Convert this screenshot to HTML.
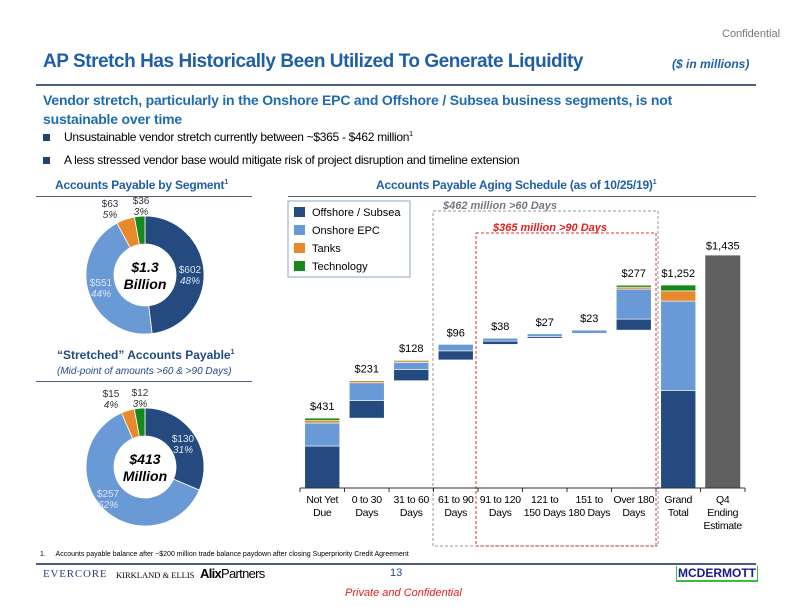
<!DOCTYPE html>
<html><head><meta charset="utf-8"><style>
body{margin:0;width:792px;height:612px;background:#fff;font-family:"Liberation Sans",sans-serif;position:relative;overflow:hidden}
.a{position:absolute;white-space:nowrap}
</style></head><body>
<div class="a" style="left:722px;top:28px;font-size:11px;color:#777">Confidential</div>
<div class="a" style="left:43px;top:51px;font-size:19px;font-weight:bold;color:#1f5fa6;letter-spacing:-0.45px">AP Stretch Has Historically Been Utilized To Generate Liquidity</div>
<div class="a" style="left:672px;top:57px;font-size:12px;font-weight:bold;font-style:italic;color:#1f5fa6">($ in millions)</div>
<div class="a" style="left:36px;top:84px;width:720px;height:2px;background:#4a5f7a"></div>
<div class="a" style="left:43px;top:91px;font-size:14px;font-weight:bold;color:#1f6bb0;line-height:19px;white-space:normal;width:680px;letter-spacing:-0.2px">Vendor stretch, particularly in the Onshore EPC and Offshore / Subsea business segments, is not sustainable over time</div>
<div class="a" style="left:43px;top:130px;font-size:12px;color:#000;letter-spacing:-0.3px"><span style="display:inline-block;width:7px;height:7px;background:#23436f;margin-right:14px"></span>Unsustainable vendor stretch currently between ~$365 - $462 million<sup style="font-size:7px">1</sup></div>
<div class="a" style="left:43px;top:153px;font-size:12px;color:#000;letter-spacing:-0.3px"><span style="display:inline-block;width:7px;height:7px;background:#23436f;margin-right:14px"></span>A less stressed vendor base would mitigate risk of project disruption and timeline extension</div>
<div class="a" style="left:55px;top:178px;font-size:12px;font-weight:bold;color:#1f5fa6;letter-spacing:-0.2px">Accounts Payable by Segment<sup style="font-size:7px">1</sup></div>
<div class="a" style="left:376px;top:178px;font-size:12px;font-weight:bold;color:#1f5fa6;letter-spacing:-0.2px">Accounts Payable Aging Schedule (as of 10/25/19)<sup style="font-size:7px">1</sup></div>
<div class="a" style="left:36px;top:196px;width:216px;height:1px;background:#4a5f7a"></div>
<div class="a" style="left:288px;top:196px;width:468px;height:1px;background:#4a5f7a"></div>
<div class="a" style="left:57px;top:348px;font-size:12px;font-weight:bold;color:#1f4a80">“Stretched” Accounts Payable<sup style="font-size:7px">1</sup></div>
<div class="a" style="left:57px;top:366px;font-size:10px;font-style:italic;color:#1f4a80">(Mid-point of amounts &gt;60 &amp; &gt;90 Days)</div>
<div class="a" style="left:36px;top:381px;width:216px;height:1px;background:#4a5f7a"></div>
<svg class="a" style="left:0;top:0" width="792" height="612" id="svg"></svg>
<div class="a" style="left:40px;top:551px;font-size:7px;color:#000">1.&nbsp;&nbsp;&nbsp;&nbsp;&nbsp;Accounts payable balance after ~$200 million trade balance paydown after closing Superpriority Credit Agreement</div>
<div class="a" style="left:36px;top:563px;width:720px;height:2px;background:#4a5f7a"></div>
<div class="a" style="left:43px;top:568px;font-size:11px;font-family:'Liberation Serif',serif;color:#2c3e7a;letter-spacing:0.8px">EVERCORE</div>
<div class="a" style="left:116px;top:570px;font-size:8.5px;font-family:'Liberation Serif',serif;color:#000">KIRKLAND &amp; ELLIS</div>
<div class="a" style="left:200px;top:566px;font-size:13px;color:#000;letter-spacing:-0.7px"><b>Alix</b>Partners</div>
<div class="a" style="left:390px;top:567px;font-size:11px;color:#1f4a80">13</div>
<div class="a" style="left:676px;top:566px;font-size:12px;font-weight:bold;color:#1a1a8a;border-bottom:2px solid #3cba3c;border-left:1px solid #3cba3c;border-right:1px solid #3cba3c;padding:0 1px">MCDERMOTT</div>
<div class="a" style="left:345px;top:587px;font-size:11px;font-style:italic;color:#e02020">Private and Confidential</div>
<script>
const cats=["Not Yet|Due","0 to 30|Days","31 to 60|Days","61 to 90|Days","91 to 120|Days","121 to|150 Days","151 to|180 Days","Over 180|Days","Grand|Total","Q4|Ending|Estimate"];
const offshore=[259,108,68,56,20,10,3,68,602];
const onshore=[142,110,45,40,18,17,20,185,551];
const tanks=[15,13,10,0,0,0,0,12,63];
const tech=[15,0,5,0,0,0,0,12,36];
const totalLabels=["$431","$231","$128","$96","$38","$27","$23","$277","$1,252","$1,435"];
const q4Value=1435;
const seg1=[602,551,63,36],seg1Lab=[["$602","48%"],["$551","44%"],["$63","5%"],["$36","3%"]];
const seg2=[130,257,15,12],seg2Lab=[["$130","31%"],["$257","62%"],["$15","4%"],["$12","3%"]];
const colors=["#254a7f","#6a9ad6","#e8892b","#17891a"];
const svg=document.getElementById('svg');const NS="http://www.w3.org/2000/svg";
function mk(t,a,p){const e=document.createElementNS(NS,t);for(const k in a)e.setAttribute(k,a[k]);(p||svg).appendChild(e);return e}
const base=488,k=0.1621,x0=300,cw=44.5,bw=35;
const y=v=>base-v*k, xc=i=>x0+cw*(i+0.5);
let b1=mk('rect',{x:433,y:211,width:225,height:335,fill:'none',stroke:'#999','stroke-dasharray':'3,2'});

let b2=mk('rect',{x:476,y:233,width:180,height:313,fill:'none',stroke:'#e03030','stroke-dasharray':'3,2'});

let t1=mk('text',{x:500,y:209,'text-anchor':'middle','font-size':11,'font-style':'italic','font-weight':'bold',fill:'#777'});t1.textContent='$462 million >60 Days';

let t2=mk('text',{x:550,y:231,'text-anchor':'middle','font-size':11,'font-style':'italic','font-weight':'bold',fill:'#e02020'});t2.textContent='$365 million >90 Days';

let cum=0;
for(let i=0;i<9;i++){
 const vals=[offshore[i],onshore[i],tanks[i],tech[i]];
 let s=(i==8)?0:cum;
 vals.forEach((v,j)=>{if(v<=0)return;const r=mk('rect',{x:xc(i)-bw/2,y:y(s+v),width:bw,height:v*k,fill:colors[j],stroke:'#fff','stroke-width':0.6});
  s+=v;});
 const tl=mk('text',{x:xc(i),y:y(s)-8,'text-anchor':'middle','font-size':11,fill:'#000'});tl.textContent=totalLabels[i];
 
 if(i<8)cum=s;
}
const q=mk('rect',{x:xc(9)-bw/2,y:y(q4Value),width:bw,height:q4Value*k,fill:'#606060'});

const ql=mk('text',{x:xc(9),y:y(q4Value)-6,'text-anchor':'middle','font-size':11});ql.textContent=totalLabels[9];

const ax=mk('line',{x1:x0,y1:base,x2:x0+cw*10,y2:base,stroke:'#333'});

for(let i=0;i<=10;i++){const tk=mk('line',{x1:x0+cw*i,y1:base,x2:x0+cw*i,y2:base+4,stroke:'#333'});}
cats.forEach((c,i)=>{c.split('|').forEach((ln,j)=>{const t=mk('text',{x:xc(i),y:base+15+j*13,'text-anchor':'middle','font-size':10.5,'letter-spacing':'-0.3'});t.textContent=ln;
 });});
const lg=mk('g',{});
mk('rect',{x:288,y:201,width:122,height:76,fill:'#fff',stroke:'#8ea4c8'},lg);
["Offshore / Subsea","Onshore EPC","Tanks","Technology"].forEach((n,j)=>{
 mk('rect',{x:294,y:207+j*18,width:11,height:10,fill:colors[j]},lg);
 const t=mk('text',{x:312,y:216+j*18,'font-size':11},lg);t.textContent=n;});
function donut(cx,cy,R,r,vals,labs,center,nm,lp){
 const tot=vals.reduce((a,b)=>a+b,0);let a=0;
 vals.forEach((v,j)=>{const a1=a+v/tot*2*Math.PI;const p=(an,rr)=>[cx+rr*Math.sin(an),cy-rr*Math.cos(an)];
  const [x1,y1]=p(a,R),[x2,y2]=p(a1,R),[x3,y3]=p(a1,r),[x4,y4]=p(a,r);const lf=(a1-a)>Math.PI?1:0;
  const e=mk('path',{d:`M${x1},${y1}A${R},${R} 0 ${lf} 1 ${x2},${y2}L${x3},${y3}A${r},${r} 0 ${lf} 0 ${x4},${y4}Z`,fill:colors[j],stroke:'#fff','stroke-width':0.8});
  a=a1;});
 lp.forEach((q,j)=>{const col=j<2?'#dce6f4':'#333';
  const t1=mk('text',{x:q[0],y:q[1],'text-anchor':'middle','font-size':10,fill:col});t1.textContent=labs[j][0];
  
  const t2=mk('text',{x:q[0],y:q[1]+11,'text-anchor':'middle','font-size':10,'font-style':'italic',fill:col});t2.textContent=labs[j][1];
  });
 center.forEach((s,j)=>{const t=mk('text',{x:cx,y:cy-3+j*17,'text-anchor':'middle','font-size':14,'font-weight':'bold','font-style':'italic'});t.textContent=s;
  });
}
donut(145,275,59,31,seg1,seg1Lab,["$1.3","Billion"],'segment-donut',[[190,273],[101,286],[110,207],[141,204]]);
donut(145,467,59,31,seg2,seg2Lab,["$413","Million"],'stretched-donut',[[183,442],[108,497],[111,397],[140,396]]);
</script>
</body></html>
